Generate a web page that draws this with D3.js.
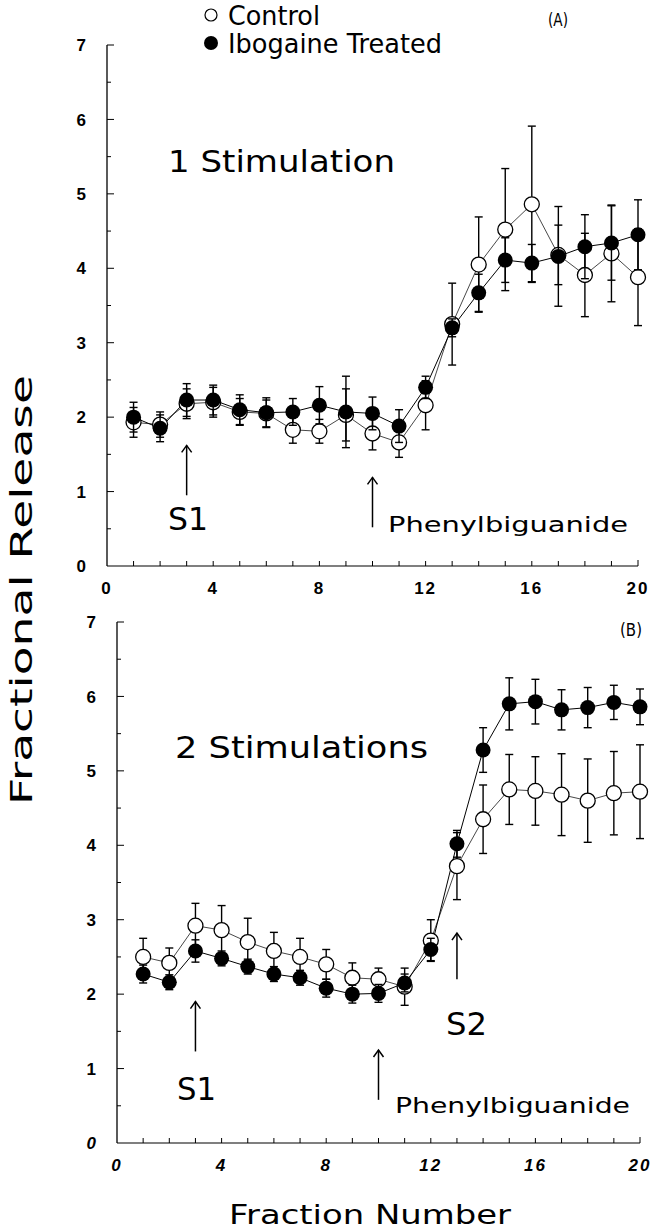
<!DOCTYPE html>
<html><head><meta charset="utf-8">
<script src="https://cdn.jsdelivr.net/npm/d3@7"></script>
<style>body{margin:0;background:#fff}svg{display:block}</style>
</head><body><div id="c"></div>
<script>
// ---- data ----
const fractions = d3.range(1, 21);
const xTicks = [0, 4, 8, 12, 16, 20];
const yTicks = [0, 1, 2, 3, 4, 5, 6, 7];
const controlA = [1.93,1.9,2.18,2.2,2.07,2.05,1.83,1.81,2.03,1.78,1.66,2.16,3.25,4.05,4.52,4.86,4.18,3.91,4.2,3.88];
const controlAErr = [0.2,0.17,0.2,0.2,0.18,0.18,0.18,0.16,0.35,0.22,0.2,0.33,0.55,0.64,0.82,1.05,0.4,0.56,0.65,0.65];
const iboA = [2.0,1.85,2.23,2.23,2.1,2.06,2.07,2.16,2.07,2.05,1.88,2.4,3.2,3.67,4.11,4.07,4.16,4.29,4.34,4.45];
const iboAErr = [0.2,0.18,0.22,0.2,0.2,0.2,0.18,0.25,0.48,0.22,0.22,0.15,0.12,0.25,0.3,0.25,0.67,0.43,0.5,0.47];
const controlB = [2.5,2.42,2.92,2.86,2.7,2.58,2.5,2.4,2.22,2.2,2.1,2.72,3.72,4.35,4.75,4.73,4.68,4.6,4.7,4.72];
const controlBErr = [0.25,0.2,0.3,0.33,0.32,0.25,0.25,0.2,0.2,0.15,0.25,0.28,0.45,0.46,0.47,0.46,0.55,0.56,0.56,0.63];
const iboB = [2.27,2.16,2.58,2.48,2.37,2.27,2.22,2.08,2.0,2.01,2.15,2.6,4.02,5.28,5.9,5.93,5.82,5.85,5.92,5.86];
const iboBErr = [0.12,0.1,0.15,0.1,0.1,0.1,0.1,0.12,0.12,0.12,0.12,0.15,0.18,0.3,0.35,0.3,0.27,0.27,0.23,0.24];

const W = 657, H = 1232;
const svg = d3.select("#c").append("svg").attr("width", W).attr("height", H);
const FONT = "'DejaVu Sans', sans-serif";
const TICKFONT = "'Liberation Sans', Arial, sans-serif";

function panel(cfg) {
  const x = d3.scaleLinear().domain([0, 20]).range(cfg.xr);
  const y = d3.scaleLinear().domain([0, 7]).range(cfg.yr);
  const g = svg.append("g");
  g.append("line").attr("x1", x(0)).attr("x2", x(0)).attr("y1", y(0)).attr("y2", y(7)).attr("stroke", "#000").attr("stroke-width", 1.3);
  g.append("line").attr("x1", x(0)).attr("x2", x(20)).attr("y1", y(0)).attr("y2", y(0)).attr("stroke", "#000").attr("stroke-width", 1.1);
  d3.range(0, 7.01, 0.5).forEach(v => {
    if (v === 0) return;
    const major = Math.abs(v - Math.round(v)) < 1e-6;
    g.append("line").attr("x1", x(0)).attr("x2", x(0) + (major ? 7 : 4))
      .attr("y1", y(v)).attr("y2", y(v)).attr("stroke", "#000").attr("stroke-width", 1);
  });
  d3.range(1, 21).forEach(v => {
    g.append("line").attr("x1", x(v)).attr("x2", x(v)).attr("y1", y(0)).attr("y2", y(0) - (v === 20 ? 6 : 5))
      .attr("stroke", "#000").attr("stroke-width", 1);
  });
  yTicks.forEach(v => {
    g.append("text").attr("x", x(0) - cfg.labOff).attr("y", y(v)).attr("dy", "0.36em")
      .attr("text-anchor", "end").attr("font-family", TICKFONT).attr("font-weight", "bold")
      .attr("font-style", (cfg.italic && v === 0) ? "italic" : "normal")
      .attr("font-size", 17).text(v);
  });
  xTicks.forEach(v => {
    g.append("text").attr("x", x(v)).attr("y", y(0) + 22).attr("dy", "0.36em")
      .attr("text-anchor", "middle").attr("font-family", TICKFONT).attr("font-weight", "bold")
      .attr("font-style", cfg.italic ? "italic" : "normal")
      .attr("font-size", 17).attr("letter-spacing", 2).text(v);
  });
  const line = d3.line().x((d, i) => x(fractions[i])).y(d => y(d));
  g.append("path").attr("d", line(cfg.ctrl)).attr("fill", "none").attr("stroke", "#333").attr("stroke-width", 0.9);
  g.append("path").attr("d", line(cfg.ibo)).attr("fill", "none").attr("stroke", "#000").attr("stroke-width", 1);
  function bars(vals, errs) {
    vals.forEach((v, i) => {
      const cx = x(fractions[i]);
      const y1 = y(v + errs[i]), y2 = y(v - errs[i]);
      g.append("line").attr("x1", cx).attr("x2", cx).attr("y1", y1).attr("y2", y2).attr("stroke", "#000").attr("stroke-width", 1.4);
      [y1, y2].forEach(yy => g.append("line").attr("x1", cx - 4).attr("x2", cx + 4).attr("y1", yy).attr("y2", yy).attr("stroke", "#000").attr("stroke-width", 1.4));
    });
  }
  bars(cfg.ctrl, cfg.ctrlErr);
  g.selectAll(null).data(cfg.ctrl).enter().append("circle")
    .attr("cx", (d, i) => x(fractions[i])).attr("cy", d => y(d)).attr("r", 7.5)
    .attr("fill", "#fff").attr("stroke", "#000").attr("stroke-width", 1.3);
  bars(cfg.ibo, cfg.iboErr);
  g.selectAll(null).data(cfg.ibo).enter().append("circle")
    .attr("cx", (d, i) => x(fractions[i])).attr("cy", d => y(d)).attr("r", 7.5)
    .attr("fill", "#000");
  cfg.arrows.forEach(a => {
    const ax = x(a.x), yb = y(a.from), yt = y(a.to);
    g.append("line").attr("x1", ax).attr("x2", ax).attr("y1", yb).attr("y2", yt).attr("stroke", "#000").attr("stroke-width", 1.5);
    g.append("path").attr("d", `M${ax - 5},${yt + 7}L${ax},${yt}L${ax + 5},${yt + 7}`).attr("fill", "none").attr("stroke", "#000").attr("stroke-width", 1.5);
  });
  cfg.labels.forEach(l => {
    g.append("text").attr("x", l.x0).attr("y", l.base).attr("font-family", FONT)
      .attr("font-size", l.size).attr("textLength", l.x1 - l.x0).attr("lengthAdjust", "spacingAndGlyphs").text(l.t);
  });
  return {x, y, g};
}

panel({
  xr: [107, 638], yr: [566, 45], labOff: 21,
  ctrl: controlA, ctrlErr: controlAErr, ibo: iboA, iboErr: iboAErr,
  arrows: [{x: 3, from: 0.95, to: 1.62}, {x: 10, from: 0.52, to: 1.19}],
  labels: [
    {t: "1 Stimulation", x0: 168, x1: 395, base: 172, size: 30},
    {t: "S1", x0: 168, x1: 208, base: 530, size: 32},
    {t: "Phenylbiguanide", x0: 388, x1: 628, base: 532, size: 21},
    {t: "(A)", x0: 548, x1: 568, base: 26, size: 17}
  ]
});
panel({
  xr: [117, 640], yr: [1143, 622], labOff: 21, italic: true,
  ctrl: controlB, ctrlErr: controlBErr, ibo: iboB, iboErr: iboBErr,
  arrows: [{x: 3, from: 1.23, to: 1.9}, {x: 10, from: 0.58, to: 1.25}, {x: 13, from: 2.2, to: 2.82}],
  labels: [
    {t: "2 Stimulations", x0: 175, x1: 428, base: 758, size: 31},
    {t: "S1", x0: 177, x1: 216, base: 1100, size: 32},
    {t: "S2", x0: 446, x1: 487, base: 1035, size: 32},
    {t: "Phenylbiguanide", x0: 395, x1: 630, base: 1113, size: 21},
    {t: "(B)", x0: 620, x1: 642, base: 636, size: 17}
  ]
});

// legend
svg.append("circle").attr("cx", 211).attr("cy", 15).attr("r", 6).attr("fill", "#fff").attr("stroke", "#000").attr("stroke-width", 1.2);
svg.append("circle").attr("cx", 211).attr("cy", 43).attr("r", 7).attr("fill", "#000");
svg.append("text").attr("x", 228).attr("y", 25).attr("font-family", FONT).attr("font-size", 27)
  .attr("textLength", 92).attr("lengthAdjust", "spacingAndGlyphs").text("Control");
svg.append("text").attr("x", 228).attr("y", 53).attr("font-family", FONT).attr("font-size", 27)
  .attr("textLength", 214).attr("lengthAdjust", "spacingAndGlyphs").text("Ibogaine Treated");

// axis titles
svg.append("text").attr("transform", "translate(32,590) rotate(-90)").attr("text-anchor", "middle")
  .attr("font-family", FONT).attr("font-size", 30).attr("textLength", 430).attr("lengthAdjust", "spacingAndGlyphs").text("Fractional Release");
svg.append("text").attr("x", 370).attr("y", 1224).attr("text-anchor", "middle")
  .attr("font-family", FONT).attr("font-size", 26).attr("textLength", 282).attr("lengthAdjust", "spacingAndGlyphs").text("Fraction Number");
</script></body></html>
